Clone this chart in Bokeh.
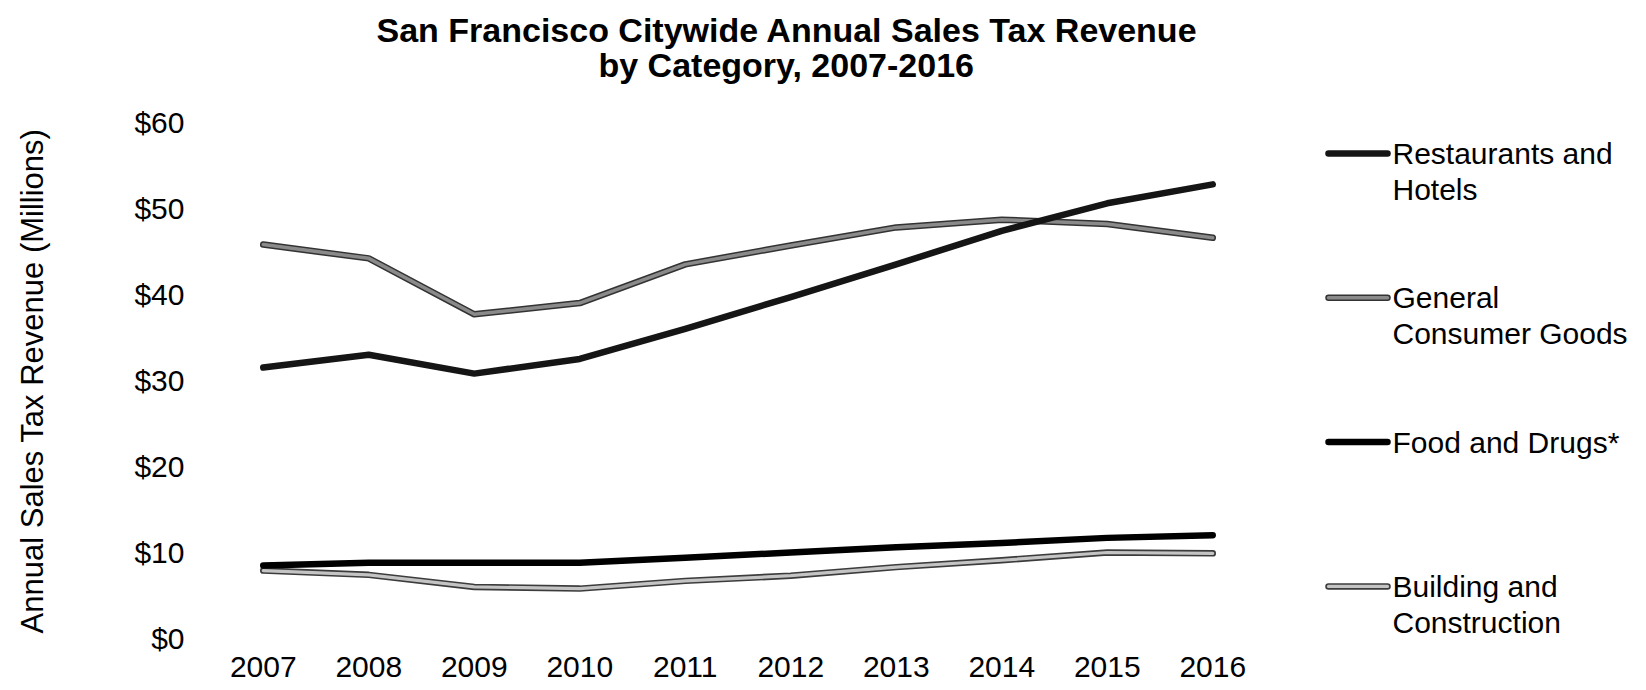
from bokeh.plotting import figure
from bokeh.models import Range1d, FixedTicker, NumeralTickFormatter, Title
from bokeh.layouts import row
from bokeh.embed import file_html
from bokeh.resources import INLINE
from bokeh.core.properties import value

years = [2007, 2008, 2009, 2010, 2011, 2012, 2013, 2014, 2015, 2016]
restaurants_hotels = [31.5, 33.0, 30.8, 32.5, 36.0, 39.7, 43.5, 47.4, 50.6, 52.8]
general_consumer = [45.8, 44.2, 37.7, 39.0, 43.5, 45.7, 47.8, 48.7, 48.2, 46.6]
food_drugs = [8.5, 8.8, 8.8, 8.8, 9.4, 10.0, 10.6, 11.1, 11.7, 12.0]
building_construction = [7.9, 7.4, 6.0, 5.8, 6.7, 7.3, 8.3, 9.1, 10.0, 9.9]

y_ticks = [0, 10, 20, 30, 40, 50, 60]
title_lines = ["San Francisco Citywide Annual Sales Tax Revenue", "by Category, 2007-2016"]
y_label = "Annual Sales Tax Revenue (Millions)"
legend_line1 = ["Restaurants and", "General", "Food and Drugs*", "Building and"]
legend_line2 = ["Hotels", "Consumer Goods", "", "Construction"]

FONT = "Liberation Sans"
FS = "30px"

B_LEFT, B_RIGHT, B_TOP, B_BOTTOM = 210, 25, 107, 36
FRAME_W, FRAME_H = 1055, 547
p = figure(frame_width=FRAME_W, frame_height=FRAME_H,
           min_border_left=B_LEFT, min_border_right=B_RIGHT,
           min_border_top=B_TOP, min_border_bottom=B_BOTTOM,
           x_range=Range1d(2006.5, 2016.5), y_range=Range1d(-1.86, 61.74),
           output_backend="svg", toolbar_location=None)
p.outline_line_color = None
p.grid.visible = False
p.background_fill_color = "white"
p.border_fill_color = "white"

for ax in (p.xaxis, p.yaxis):
    ax.axis_line_color = None
    ax.major_tick_line_color = None
    ax.minor_tick_line_color = None
    ax.major_tick_out = 0
    ax.major_tick_in = 0
    ax.major_label_text_font = FONT
    ax.major_label_text_font_size = FS
    ax.major_label_text_color = "black"

p.xaxis.ticker = FixedTicker(ticks=years)
p.xaxis.major_label_standoff = 2
p.yaxis.ticker = FixedTicker(ticks=y_ticks)
p.yaxis.formatter = NumeralTickFormatter(format="$0")
p.yaxis.major_label_standoff = 26
p.yaxis.axis_label = y_label
p.yaxis.axis_label_text_font = FONT
p.yaxis.axis_label_text_font_size = "31px"
p.yaxis.axis_label_text_font_style = "normal"
p.yaxis.axis_label_text_color = "black"
p.yaxis.axis_label_standoff = 81

# series (drawn bottom to top)
p.line(years, building_construction, line_color="#3c3c3c", line_width=6.5, line_join="round", line_cap="round")
p.line(years, building_construction, line_color="#c4c4c4", line_width=3.2, line_join="round", line_cap="round")
p.line(years, food_drugs, line_color="#000000", line_width=6.5, line_join="round", line_cap="round")
p.line(years, general_consumer, line_color="#333333", line_width=6.5, line_join="round", line_cap="round")
p.line(years, general_consumer, line_color="#8a8a8a", line_width=3.5, line_join="round", line_cap="round")
p.line(years, restaurants_hotels, line_color="#151515", line_width=6.5, line_join="round", line_cap="round")

# two-line title: second line added first (closest to the frame)
p.add_layout(Title(text=title_lines[1], align="left", offset=388, standoff=47,
                   text_font=FONT, text_font_size="34px", text_font_style="bold",
                   text_color="black"), "above")
p.add_layout(Title(text=title_lines[0], align="left", offset=166, standoff=-57,
                   text_font=FONT, text_font_size="34px", text_font_style="bold",
                   text_color="black"), "above")

# legend panel, in page pixel coordinates vertically (same borders as main plot)
LW = 348
lg = figure(frame_width=LW, frame_height=FRAME_H, min_border_left=0, min_border_right=0,
            min_border_top=B_TOP, min_border_bottom=B_BOTTOM,
            x_range=Range1d(0, LW), y_range=Range1d(B_TOP + FRAME_H, B_TOP),
            x_axis_type=None, y_axis_type=None,
            output_backend="svg", toolbar_location=None)
lg.outline_line_color = None
lg.grid.visible = False

n = len(legend_line1)
ys = [153 + i * 144.3 for i in range(n)]
ys2 = [y + 36 for y in ys]
styles = [
    [("#151515", 6.5)],
    [("#333333", 6.5), ("#8a8a8a", 3.5)],
    [("#000000", 6.5)],
    [("#3c3c3c", 6.5), ("#c4c4c4", 3.2)],
]
for y, st in zip(ys, styles):
    for col, w in st:
        lg.segment(x0=[38], x1=[97], y0=[y], y1=[y], line_color=col, line_width=w, line_cap="round")

lg.text(x=[102] * n, y=ys, text=legend_line1, text_baseline="middle", text_align="left",
        text_font=value(FONT), text_font_size=FS, text_color="black")
lg.text(x=[102] * n, y=ys2, text=legend_line2, text_baseline="middle", text_align="left",
        text_font=value(FONT), text_font_size=FS, text_color="black")

layout = row(p, lg)
open("out.html", "w").write(file_html(layout, INLINE))
